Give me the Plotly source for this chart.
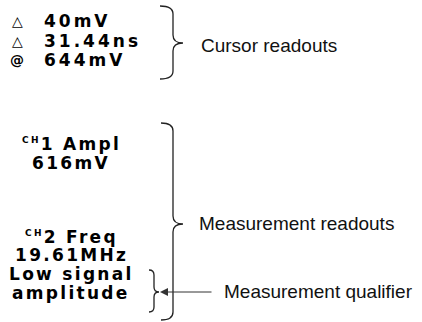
import plotly.graph_objects as go

# ---- content ----
cursor_symbols = ["△", "△", "@"]
cursor_values = ["40mV", "31.44ns", "644mV"]
cursor_rows_y = [21, 41, 60]

meas1_lines = ["<sup><span style='font-size:9px'>CH</span></sup>1 Ampl", "616mV"]
meas1_y = [144, 163]
meas2_lines = ["<sup><span style='font-size:9px'>CH</span></sup>2 Freq", "19.61MHz", "Low signal", "amplitude"]
meas2_y = [237, 255, 274, 293]

labels = ["Cursor readouts", "Measurement readouts", "Measurement qualifier"]
label_x = [199, 197, 222]
label_y = [45, 223, 291]

# braces: (left x, stem x, tip x, top y, mid y, bottom y, radius)
braces = [
    (160, 173, 183, 6, 43, 79, 8),
    (161, 173, 183, 123, 224, 320, 8),
    (149, 154, 159, 270, 292, 312, 5),
]

W, H = 422, 322
BIT = "DejaVu Sans, Verdana, sans-serif"
SANS = "Liberation Sans, Arial, Helvetica, sans-serif"

def ls(t, px=2.5):
    return f"<span style='letter-spacing:{px}px'>{t}</span>"

fig = go.Figure()
fig.add_trace(go.Scatter(x=[0, W], y=[0, H], mode="markers", marker=dict(opacity=0), hoverinfo="skip", showlegend=False))

ann = []
for s, v, y in zip(cursor_symbols, cursor_values, cursor_rows_y):
    ann.append(dict(x=17, y=y, text=f"<b>{s}</b>", xanchor="center", yanchor="middle",
                    font=dict(family=BIT, size=14, color="black"), showarrow=False))
    ann.append(dict(x=42, y=y, text=f"<b>{ls(v, 3)}</b>", xanchor="left", yanchor="middle",
                    font=dict(family=BIT, size=17, color="black"), showarrow=False))

for t, y in zip(meas1_lines + meas2_lines, meas1_y + meas2_y):
    ann.append(dict(x=71, y=y, text=f"<b>{ls(t, 2.3)}</b>", xanchor="center", yanchor="middle",
                    font=dict(family=BIT, size=17, color="black"), showarrow=False))

for t, x, y in zip(labels, label_x, label_y):
    ann.append(dict(x=x, y=y, text=t, xanchor="left", yanchor="middle",
                    font=dict(family=SANS, size=19, color="#111"), showarrow=False))

# qualifier arrow
ann.append(dict(x=160, y=292, ax=213, ay=292, xref="x", yref="y", axref="x", ayref="y",
                text="", showarrow=True, arrowhead=2, arrowsize=1.6, arrowwidth=1,
                arrowcolor="#333", standoff=0))

shapes = []
for x0, xm, xt, y0, ym, y1, r in braces:
    p = (f"M {x0},{y0} Q {xm},{y0} {xm},{y0 + r} L {xm},{ym - r} "
         f"Q {xm},{ym} {xt},{ym} Q {xm},{ym} {xm},{ym + r} "
         f"L {xm},{y1 - r} Q {xm},{y1} {x0},{y1}")
    shapes.append(dict(type="path", path=p, xref="x", yref="y",
                       line=dict(color="#222", width=1.3)))

fig.update_layout(
    width=W, height=H, margin=dict(l=0, r=0, t=0, b=0),
    paper_bgcolor="white", plot_bgcolor="white",
    xaxis=dict(range=[0, W], visible=False, fixedrange=True),
    yaxis=dict(range=[H, 0], visible=False, fixedrange=True),
    annotations=ann, shapes=shapes, showlegend=False,
)
fig.write_html("out.html", config={"displayModeBar": False, "staticPlot": True},
               post_script="document.body.style.margin='0';document.body.style.overflow='hidden';")
